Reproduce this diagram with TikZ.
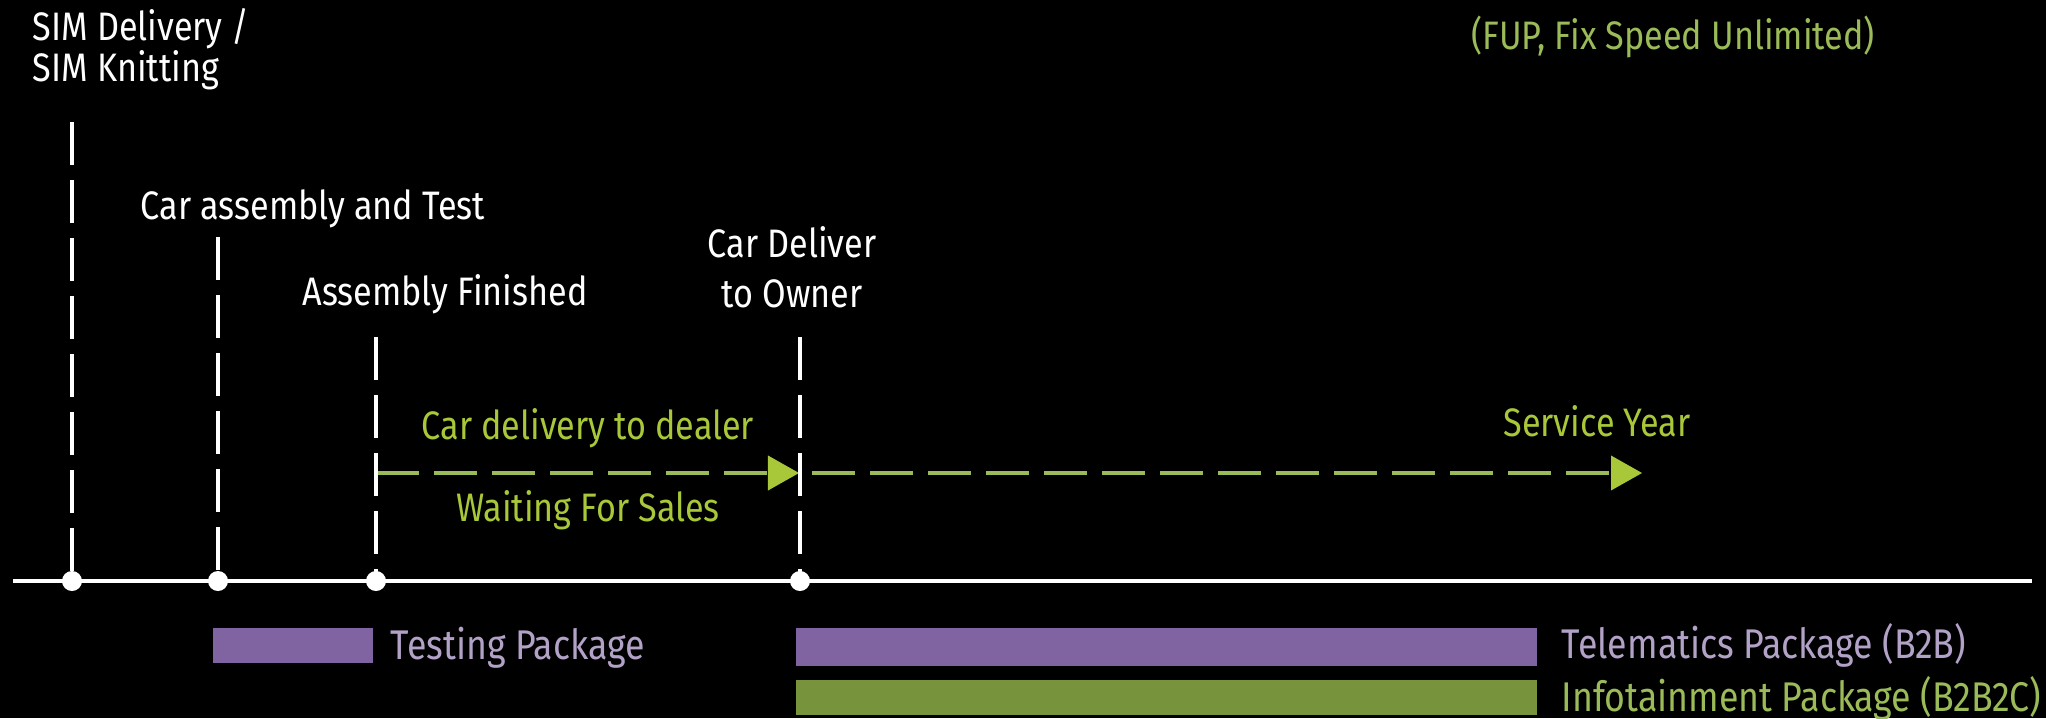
\documentclass[tikz,border=0pt]{standalone}
\usepackage{fontspec}
\setmainfont[FakeStretch=0.86]{Fira Sans}
\usepackage{tikz}
\usetikzlibrary{arrows.meta}

\definecolor{limegreen}{HTML}{A8C83A}
\definecolor{olivegreen}{HTML}{9BBB59}
\definecolor{darkolive}{HTML}{77933C}
\definecolor{purplebar}{HTML}{8064A2}
\definecolor{lightpurple}{HTML}{B3A2C7}

\tikzset{
  lbl/.style={text=white, inner sep=0pt, align=center, font=\fontsize{11.3}{14.2}\selectfont},
  grn/.style={text=limegreen, inner sep=0pt, font=\fontsize{11.3}{14.2}\selectfont},
  pkg/.style={inner sep=0pt, anchor=base west, font=\fontsize{11.8}{14}\selectfont},
  tick/.style={white, line width=1.4pt, dash pattern=on 12.2pt off 4.3pt},
  dot/.style={circle, fill=white, inner sep=0pt, minimum size=0.2cm},
  period/.style={olivegreen, line width=1.4pt, dash pattern=on 12.2pt off 4.3pt,
    -{Triangle[length=0.31cm, width=0.35cm, color=limegreen, line width=0pt]}},
}

\begin{document}
\begin{tikzpicture}[x=0.01cm, y=-0.01cm]
    \fill[black] (0,0) rectangle (2046,718);
    \useasboundingbox (0,0) rectangle (2046,718);

    % milestones
    \node[lbl, anchor=base west, align=left, font=\fontsize{11.3}{11.6}\selectfont] (sim) at (32,81) {SIM Delivery /\\SIM Knitting};
    \node[lbl, anchor=base] (assy) at (313,219) {Car assembly and Test};
    \node[lbl, anchor=base] (fin) at (445,305) {Assembly Finished};
    \node[lbl, anchor=base] (own) at (792,307) {Car Deliver\\to Owner};

    \coordinate (t1) at (72,122);
    \coordinate (t2) at (218,237);
    \coordinate (t3) at (376,337);
    \coordinate (t4) at (800,337);

    % periods
    \coordinate (p0) at (376,473);
    \coordinate (p1) at (799,473);
    \coordinate (p2) at (812,473);
    \coordinate (p3) at (1642,473);
    \draw[period] (p0) -- (p1);
    \draw[period] (p2) -- (p3);
    \node[grn, anchor=base] (dealer) at (588,439) {Car delivery to dealer};
    \node[grn, anchor=base] (wait) at (588,521) {Waiting For Sales};
    \node[grn, anchor=base] (year) at (1597,436) {Service Year};
    \node[grn, anchor=base, text=olivegreen] (fup) at (1673,49) {(FUP, Fix Speed Unlimited)};

    % time line
    \coordinate (a) at (13,581);
    \coordinate (b) at (2032,581);
    \draw[white, line width=1.4pt] (a) -- (b);
    \foreach \x/\n in {72/d1, 218/d2, 376/d3, 800/d4}
    \node[dot] (\n) at (\x,581) {};
    \foreach \i in {1,...,4}
    \draw[tick] (t\i) -- (d\i.center);

    % packages
    \fill[purplebar] (213,628) rectangle (373,663);
    \fill[purplebar] (796,628) rectangle (1537,666);
    \fill[darkolive] (796,680) rectangle (1537,715);
    \node[pkg, text=lightpurple] (test) at (390,659) {Testing Package};
    \node[pkg, text=lightpurple] (tele) at (1561,658) {Telematics Package (B2B)};
    \node[pkg, text=olivegreen] (info) at (1561,711) {Infotainment Package (B2B2C)};
\end{tikzpicture}
\end{document}
